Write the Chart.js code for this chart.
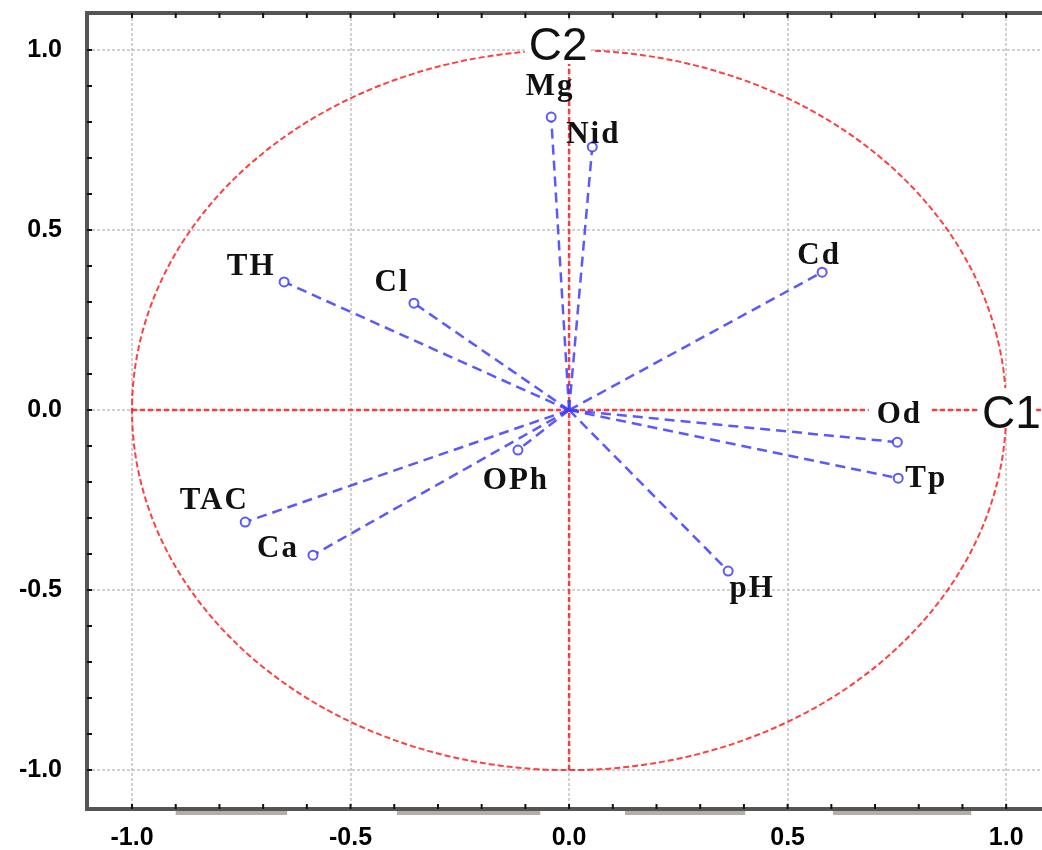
<!DOCTYPE html>
<html>
<head>
<meta charset="utf-8">
<script src="https://cdn.jsdelivr.net/npm/chart.js@4/dist/chart.umd.min.js"></script>
<style>
  html, body { margin: 0; padding: 0; background: #fff; }
  #wrap { width: 1042px; height: 850px; }
</style>
</head>
<body>
<div id="wrap"><canvas id="pca" width="1042" height="850"></canvas></div>
<script>
// variables of the correlation circle (C1 = x, C2 = y)
const categories = ['TH', 'Cl', 'Mg', 'Nid', 'Cd', 'Od', 'Tp', 'pH', 'OPh', 'TAC', 'Ca'];
const c1Values = [-0.652, -0.355, -0.041, 0.053, 0.579, 0.751, 0.753, 0.364, -0.117, -0.741, -0.586];
const c2Values = [0.356, 0.297, 0.814, 0.731, 0.383, -0.089, -0.189, -0.447, -0.111, -0.311, -0.403];
const xTickLabels = [-1.0, -0.5, 0.0, 0.5, 1.0];
const yTickLabels = [-1.0, -0.5, 0.0, 0.5, 1.0];

// label placement relative to the marker (px): dx to text centre, dy to baseline
const labelOffsets = [[-33, -7], [-22, -12], [-1, -22], [1, -4], [-3, -8], [2, -19],
  [28, 9], [24, 26], [-2, 39], [-31, -13], [-35, 2]];

const blue = 'rgba(60,60,255,0.85)';
const red = 'rgba(255,30,30,0.85)';

const datasets = categories.map((name, i) => ({
  label: name,
  data: [{ x: 0, y: 0 }, { x: c1Values[i], y: c2Values[i] }],
  showLine: true,
  borderColor: blue,
  borderWidth: 2.5,
  borderDash: [10, 6],
  pointRadius: [0, 4.5],
  pointBorderWidth: 2,
  pointBorderColor: blue,
  pointBackgroundColor: '#fff'
}));

const circlePlugin = {
  id: 'circle',
  beforeDatasetsDraw(chart) {
    const { ctx, scales: { x, y } } = chart;
    const cx = x.getPixelForValue(0), cy = y.getPixelForValue(0);
    const rx = x.getPixelForValue(1) - cx, ry = cy - y.getPixelForValue(1);
    ctx.save();
    ctx.strokeStyle = red;
    ctx.lineWidth = 2;
    ctx.setLineDash([6, 3]);
    ctx.beginPath();
    ctx.ellipse(cx, cy, rx, ry, 0, 0, Math.PI * 2);
    ctx.stroke();
    // axes of the circle
    ctx.lineWidth = 2.5;
    ctx.setLineDash([5, 3]);
    ctx.beginPath();
    ctx.moveTo(x.getPixelForValue(-1), cy);
    ctx.lineTo(chart.chartArea.right, cy);
    ctx.moveTo(cx, y.getPixelForValue(-1));
    ctx.lineTo(cx, y.getPixelForValue(1));
    ctx.stroke();
    ctx.setLineDash([]);
    // C1 / C2 on a white patch
    ctx.font = '46px "Liberation Sans"';
    ctx.textBaseline = 'alphabetic';
    ctx.fillStyle = '#fff';
    const w = ctx.measureText('C2').width;
    ctx.fillRect(cx - 11 - w / 2 - 4, 20, w + 8, 44);
    ctx.fillRect(x.getPixelForValue(0.945) - 4, cy - 22, 58, 40);
    ctx.fillStyle = '#111';
    ctx.textAlign = 'center';
    ctx.fillText('C2', cx - 11, 60);
    ctx.textAlign = 'left';
    ctx.fillText('C1', x.getPixelForValue(0.945), cy + 18);
    ctx.restore();
  },
  afterDatasetsDraw(chart) {
    const { ctx, scales: { x, y } } = chart;
    ctx.save();
    ctx.font = 'bold 31px "Liberation Serif"';
    ctx.letterSpacing = '2px';
    ctx.textAlign = 'center';
    ctx.textBaseline = 'alphabetic';
    categories.forEach((name, i) => {
      const px = x.getPixelForValue(c1Values[i]) + labelOffsets[i][0];
      const py = y.getPixelForValue(c2Values[i]) + labelOffsets[i][1];
      if (name === 'Od') {
        const w = ctx.measureText(name).width;
        ctx.fillStyle = '#fff';
        ctx.fillRect(px - w / 2 - 8, py - 24, w + 16, 30);
      }
      ctx.fillStyle = '#111';
      ctx.fillText(name, px, py);
    });
    ctx.restore();
  },
  afterDraw(chart) {
    const { ctx, chartArea: a, scales: { x, y } } = chart;
    ctx.save();
    // light grey bars under the bottom axis
    ctx.strokeStyle = '#b3aea8';
    ctx.lineWidth = 4;
    ctx.beginPath();
    [[-0.9, -0.645], [-0.394, -0.066], [0.128, 0.403], [0.604, 0.92]].forEach(([s, e]) => {
      ctx.moveTo(x.getPixelForValue(s), a.bottom + 4);
      ctx.lineTo(x.getPixelForValue(e), a.bottom + 4);
    });
    ctx.stroke();
    ctx.strokeStyle = '#555';
    ctx.lineWidth = 4;
    ctx.beginPath();
    ctx.moveTo(a.right, a.top);
    ctx.lineTo(a.left, a.top);
    ctx.lineTo(a.left, a.bottom);
    ctx.lineTo(a.right, a.bottom);
    ctx.stroke();
    // minor tick marks every 0.1
    ctx.strokeStyle = '#111';
    ctx.lineWidth = 2;
    ctx.beginPath();
    for (let k = -11; k <= 11; k++) {
      const v = k / 10;
      const px = x.getPixelForValue(v);
      if (px > a.left + 3 && px < a.right) {
        ctx.moveTo(px, a.top); ctx.lineTo(px, a.top + 5);
        ctx.moveTo(px, a.bottom); ctx.lineTo(px, a.bottom - 5);
      }
      const py = y.getPixelForValue(v);
      if (py > a.top + 3 && py < a.bottom - 3) {
        ctx.moveTo(a.left, py); ctx.lineTo(a.left + 5, py);
      }
    }
    ctx.stroke();
    ctx.restore();
  }
};

const tickFont = { family: '"Liberation Sans"', size: 25, weight: 'bold' };
const noPad = s => { s.paddingTop = 0; s.paddingBottom = 0; s.paddingLeft = 0; s.paddingRight = 0; };

new Chart(document.getElementById('pca'), {
  type: 'scatter',
  data: { datasets },
  options: {
    responsive: false,
    animation: false,
    devicePixelRatio: 1,
    layout: { autoPadding: false, padding: { top: 13, right: 0, left: 0, bottom: 0 } },
    plugins: { legend: { display: false }, tooltip: { enabled: false } },
    scales: {
      x: {
        type: 'linear',
        min: -1.103,
        max: 1.082,
        afterBuildTicks: s => { s.ticks = xTickLabels.map(v => ({ value: v })); },
        afterFit: s => { s.height = 41; noPad(s); },
        ticks: { color: '#000', font: tickFont, padding: 14, maxRotation: 0, callback: v => v.toFixed(1) },
        grid: { color: 'rgba(190,190,190,0.7)', lineWidth: 2, drawTicks: false },
        border: { display: false, dash: [3, 2] }
      },
      y: {
        type: 'linear',
        min: -1.108,
        max: 1.103,
        afterBuildTicks: s => { s.ticks = yTickLabels.map(v => ({ value: v })); },
        afterFit: s => { s.width = 87; noPad(s); },
        ticks: { color: '#000', font: tickFont, padding: 25, callback: v => v.toFixed(1) },
        grid: { color: 'rgba(190,190,190,0.7)', lineWidth: 2, drawTicks: false },
        border: { display: false, dash: [3, 2] }
      }
    }
  },
  plugins: [circlePlugin]
});
</script>
</body>
</html>
